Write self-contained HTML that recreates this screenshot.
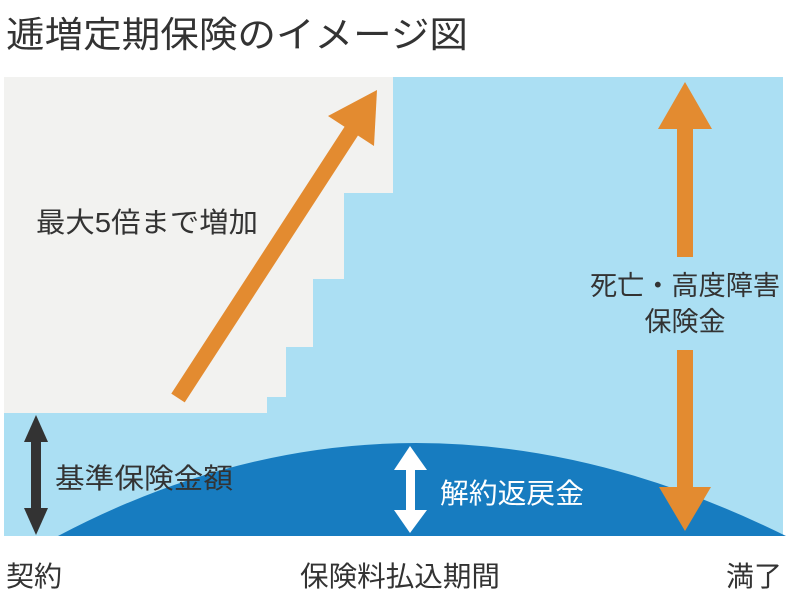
<!DOCTYPE html>
<html><head><meta charset="utf-8"><style>
body{margin:0;background:#fff;}
svg{display:block;}
text{font-family:"Liberation Sans","Noto Sans CJK JP",sans-serif;}
</style></head><body>
<svg width="790" height="596" viewBox="0 0 790 596" xmlns="http://www.w3.org/2000/svg">
<rect width="790" height="596" fill="#fff"/>
<text x="6" y="47" font-size="36" fill="#333" textLength="462" lengthAdjust="spacingAndGlyphs">逓増定期保険のイメージ図</text>
<rect x="4" y="77" width="779" height="459" fill="#abdff3"/>
<path d="M4 77 H393 V193 H344 V279 H313 V347 H286 V397 H267 V413 H4 Z" fill="#f2f2f0"/>
<path d="M58 536 Q410 350 786 536 Z" fill="#177cc0"/>
<line x1="178" y1="398" x2="352" y2="130" stroke="#e38b30" stroke-width="16"/>
<polygon points="377,90 374,146 328,116" fill="#e38b30"/>
<text x="36" y="232" font-size="28" fill="#333" textLength="222" lengthAdjust="spacingAndGlyphs">最大5倍まで増加</text>
<rect x="31" y="440" width="10" height="75" fill="#333"/>
<polygon points="36,415 24,442 48,442" fill="#333"/>
<polygon points="36,535 24,508 48,508" fill="#333"/>
<text x="55" y="488" font-size="28" fill="#333" textLength="178" lengthAdjust="spacingAndGlyphs">基準保険金額</text>
<rect x="406" y="468" width="9" height="45" fill="#fff"/>
<polygon points="410,446 394,470 427,470" fill="#fff"/>
<polygon points="410,533 394,510 427,510" fill="#fff"/>
<text x="440" y="503" font-size="28" fill="#fff" textLength="144" lengthAdjust="spacingAndGlyphs">解約返戻金</text>
<polygon points="685,82 658,129 712,129" fill="#e38b30"/>
<rect x="677" y="128" width="16" height="129" fill="#e38b30"/>
<rect x="677" y="350" width="16" height="138" fill="#e38b30"/>
<polygon points="685,531 659,487 711,487" fill="#e38b30"/>
<text x="685" y="295" font-size="27" fill="#333" text-anchor="middle" textLength="190" lengthAdjust="spacingAndGlyphs">死亡・高度障害</text>
<text x="685" y="331" font-size="27" fill="#333" text-anchor="middle">保険金</text>
<text x="6" y="586" font-size="28" fill="#333">契約</text>
<text x="400" y="586" font-size="28" fill="#333" text-anchor="middle" textLength="200" lengthAdjust="spacingAndGlyphs">保険料払込期間</text>
<text x="726" y="586" font-size="28" fill="#333">満了</text>
</svg>
</body></html>
